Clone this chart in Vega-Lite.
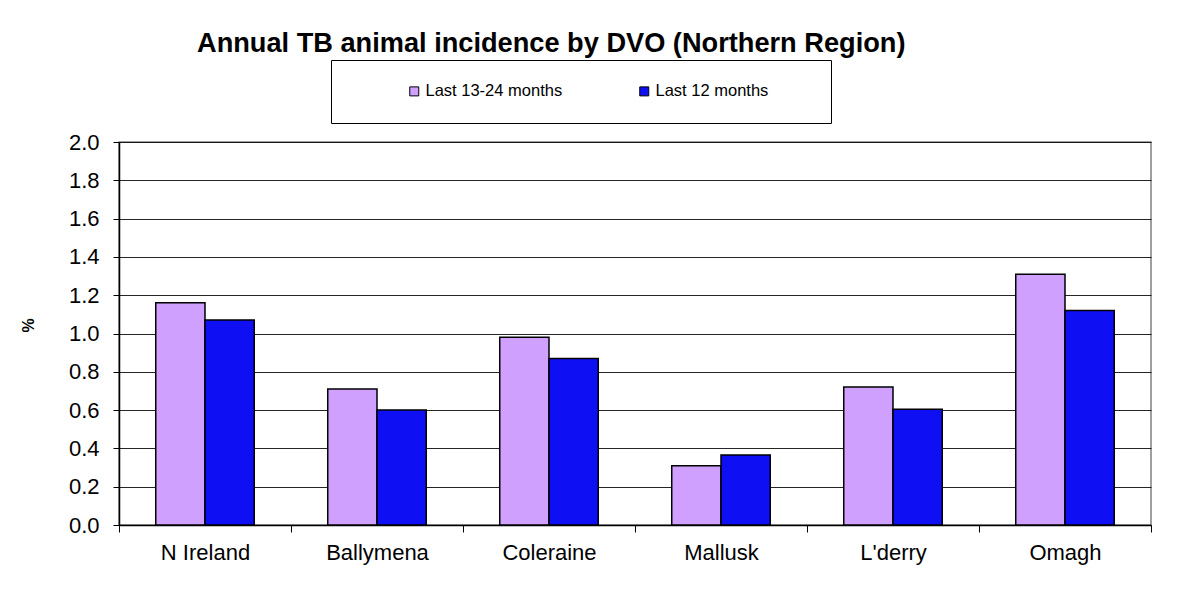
{
  "$schema": "https://vega.github.io/schema/vega-lite/v6.json",
  "autosize": "none",
  "width": 1032,
  "height": 383,
  "padding": {"left": 119, "top": 142, "right": 38, "bottom": 64},
  "background": "white",
  "title": {
    "text": "Annual TB animal incidence by DVO (Northern Region)",
    "font": "Liberation Sans",
    "fontSize": 27.2,
    "fontWeight": "bold",
    "color": "#000000",
    "anchor": "start",
    "frame": "group",
    "dx": 78,
    "baseline": "alphabetic",
    "offset": -20
  },
  "data": {
    "values": [
      {"dvo": "N Ireland", "period": "Last 13-24 months", "value": 1.16},
      {"dvo": "N Ireland", "period": "Last 12 months", "value": 1.07},
      {"dvo": "Ballymena", "period": "Last 13-24 months", "value": 0.71},
      {"dvo": "Ballymena", "period": "Last 12 months", "value": 0.60},
      {"dvo": "Coleraine", "period": "Last 13-24 months", "value": 0.98},
      {"dvo": "Coleraine", "period": "Last 12 months", "value": 0.87},
      {"dvo": "Mallusk", "period": "Last 13-24 months", "value": 0.31},
      {"dvo": "Mallusk", "period": "Last 12 months", "value": 0.365},
      {"dvo": "L'derry", "period": "Last 13-24 months", "value": 0.72},
      {"dvo": "L'derry", "period": "Last 12 months", "value": 0.605},
      {"dvo": "Omagh", "period": "Last 13-24 months", "value": 1.31},
      {"dvo": "Omagh", "period": "Last 12 months", "value": 1.12}
    ]
  },
  "mark": {"type": "bar", "stroke": "#000000", "strokeWidth": 1.5},
  "encoding": {
    "x": {
      "field": "dvo",
      "type": "nominal",
      "sort": null,
      "scale": {"paddingInner": 0, "paddingOuter": 0},
      "axis": {
        "title": null,
        "labelAngle": 0,
        "labelFont": "Liberation Sans",
        "labelFontSize": 22,
        "labelColor": "#000000",
        "labelPadding": 10,
        "tickBand": "extent",
        "tickSize": 7,
        "tickColor": "#000000",
        "domainColor": "#000000",
        "domainWidth": 1.5,
        "grid": false
      }
    },
    "xOffset": {
      "field": "period",
      "type": "nominal",
      "sort": ["Last 13-24 months", "Last 12 months"],
      "scale": {"paddingInner": 0, "paddingOuter": 0.746}
    },
    "y": {
      "field": "value",
      "type": "quantitative",
      "scale": {"domain": [0, 2], "nice": false},
      "axis": {
        "title": "%",
        "titleFont": "Liberation Sans",
        "titleFontSize": 16,
        "titleFontWeight": "bold",
        "titleColor": "#000000",
        "titlePadding": 32,
        "titleY": 183,
        "values": [0, 0.2, 0.4, 0.6, 0.8, 1.0, 1.2, 1.4, 1.6, 1.8, 2.0],
        "format": ".1f",
        "labelFont": "Liberation Sans",
        "labelFontSize": 22,
        "labelColor": "#000000",
        "labelPadding": 14,
        "tickSize": 6,
        "tickColor": "#000000",
        "domainColor": "#000000",
        "domainWidth": 1.5,
        "grid": true,
        "gridColor": "#000000",
        "gridOpacity": 0.85
      }
    },
    "color": {
      "field": "period",
      "type": "nominal",
      "sort": ["Last 13-24 months", "Last 12 months"],
      "scale": {"domain": ["Last 13-24 months", "Last 12 months"], "range": ["#CFA0FD", "#0F0FF4"]},
      "legend": {
        "title": " ",
        "titleOrient": "right",
        "titlePadding": 40,
        "titleFontSize": 6,
        "orient": "none",
        "direction": "horizontal",
        "legendX": 212,
        "legendY": -82,
        "padding": 23,
        "strokeColor": "#000000",
        "fillColor": "#ffffff",
        "symbolType": "square",
        "symbolSize": 81,
        "symbolStrokeColor": "#000000",
        "symbolStrokeWidth": 1,
        "symbolOffset": 52,
        "labelOffset": 3,
        "columnPadding": 21,
        "labelFont": "Liberation Sans",
        "labelFontSize": 16.5,
        "labelColor": "#000000",
        "labelLimit": 300
      }
    }
  },
  "config": {
    "view": {"stroke": "#808080", "strokeWidth": 1.5}
  }
}
